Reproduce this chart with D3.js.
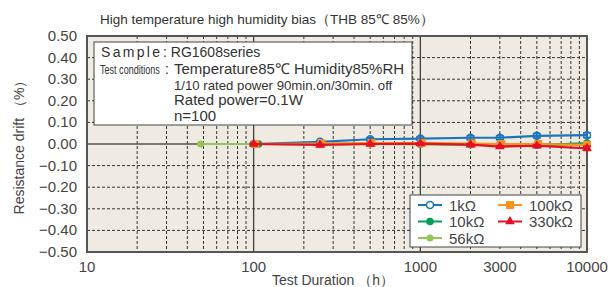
<!DOCTYPE html>
<html>
<head>
<meta charset="utf-8">
<script src="https://cdn.jsdelivr.net/npm/d3@7"></script>
<style>
  body { margin: 0; background: #fff; }
  svg { display: block; font-family: "Liberation Sans", Arial, sans-serif; }
</style>
</head>
<body>
<div id="chart"></div>
<script>
// ── data ──
const yTicks = [0.5, 0.4, 0.3, 0.2, 0.1, 0, -0.1, -0.2, -0.3, -0.4, -0.5];
const xTicks = [10, 100, 1000, 3000, 10000];
const minorX = [20, 30, 40, 50, 60, 70, 80, 90, 200, 300, 400, 500, 600, 700, 800, 900,
  2000, 3000, 4000, 5000, 6000, 7000, 8000, 9000];

const t56 = [48, 100, 250, 500, 1000, 2000, 3000, 5000, 10000];
const v56 = [0, 0, -0.002, 0, -0.002, -0.004, -0.004, -0.004, -0.004];
const t10 = [107, 250, 500, 1000, 2000, 3000, 5000, 10000];
const v10 = [0, 0, 0.002, 0, -0.002, -0.002, -0.006, 0.004];
const tStd = [100, 250, 500, 1000, 2000, 3000, 5000, 10000];
const v1k = [0, 0.010, 0.022, 0.025, 0.029, 0.029, 0.038, 0.041];
const e1k = [0.002, 0.005, 0.007, 0.008, 0.009, 0.009, 0.010, 0.011];
const t100k = [102, 255, 510, 1020, 2040, 3060, 5100, 10000];
const v100k = [0, 0.002, 0.004, 0.004, 0.002, 0, 0, -0.004];
const v330k = [0, -0.004, 0, 0.002, -0.003, -0.012, -0.008, -0.020];
const e330k = [0.002, 0.003, 0.003, 0.003, 0.004, 0.004, 0.005, 0.010];

const C = { blue: "#1b75bb", green: "#00a05a", lgreen: "#92c757", orange: "#f7931e", red: "#e60f25" };

const series = [
  { name: "56kΩ", t: t56, v: v56, color: C.lgreen, mark: "lgdot" },
  { name: "10kΩ", t: t10, v: v10, color: C.green, mark: "dot" },
  { name: "1kΩ", t: tStd, v: v1k, e: e1k, color: C.blue, mark: "ring" },
  { name: "100kΩ", t: t100k, v: v100k, color: C.orange, mark: "square" },
  { name: "330kΩ", t: tStd, v: v330k, e: e330k, color: C.red, mark: "tri" },
];

const W = 610, H = 287;
const svg = d3.select("#chart").append("svg").attr("width", W).attr("height", H);

const x = d3.scaleLog().domain([10, 10000]).range([87, 587]);
const y = d3.scaleLinear().domain([-0.5, 0.5]).range([252, 36]);
const [x0, x1] = x.range(), [y0, y1] = [y(0.5), y(-0.5)];

// plot background
svg.append("rect").attr("x", x0).attr("y", y0).attr("width", x1 - x0).attr("height", y1 - y0)
  .attr("fill", "#efebe2");

// grid
const grid = svg.append("g");
grid.selectAll(".hg").data(yTicks.filter((d) => Math.abs(d) > 0.001 && Math.abs(d) < 0.49))
  .enter().append("line")
  .attr("x1", x0).attr("x2", x1).attr("y1", (d) => y(d)).attr("y2", (d) => y(d))
  .attr("stroke", "#333").attr("stroke-width", 1).attr("stroke-dasharray", "3,2");
grid.selectAll(".vg").data(minorX).enter().append("line")
  .attr("x1", (d) => x(d)).attr("x2", (d) => x(d)).attr("y1", y0).attr("y2", y1)
  .attr("stroke", "#333").attr("stroke-width", 1).attr("stroke-dasharray", "3,2");
grid.selectAll(".vd").data([100, 1000]).enter().append("line")
  .attr("x1", (d) => x(d)).attr("x2", (d) => x(d)).attr("y1", y0).attr("y2", y1)
  .attr("stroke", "#333").attr("stroke-width", 1.2);
grid.append("line").attr("x1", x0).attr("x2", x1).attr("y1", y(0)).attr("y2", y(0))
  .attr("stroke", "#555").attr("stroke-width", 1.5);

// frame
svg.append("rect").attr("x", x0).attr("y", y0).attr("width", x1 - x0).attr("height", y1 - y0)
  .attr("fill", "none").attr("stroke", "#555").attr("stroke-width", 2);

// tick labels
const fmtY = (d) => (d < 0 ? "\u2212" : "") + Math.abs(d).toFixed(2);
svg.selectAll(".yt").data(yTicks).enter().append("text")
  .attr("x", 77).attr("y", (d) => y(d) + 5).attr("text-anchor", "end")
  .attr("font-size", "15px").attr("fill", "#444").text(fmtY);
svg.selectAll(".xt").data(xTicks).enter().append("text")
  .attr("x", (d) => x(d)).attr("y", 272).attr("text-anchor", "middle")
  .attr("font-size", "15px").attr("fill", "#444").text((d) => d);

// titles
svg.append("text").attr("x", 100).attr("y", 24).attr("font-size", "13.5px").attr("fill", "#333")
  .text("High temperature high humidity bias（THB 85℃ 85%）");
svg.append("text").attr("transform", "translate(24,144) rotate(-90)").attr("text-anchor", "middle")
  .attr("font-size", "14px").attr("fill", "#444").text("Resistance drift （%）");
svg.append("text").attr("x", 333).attr("y", 285).attr("text-anchor", "middle")
  .attr("font-size", "14px").attr("fill", "#444").text("Test Duration （h）");

// annotation box
const ann = svg.append("g");
ann.append("rect").attr("x", 94).attr("y", 42).attr("width", 318).attr("height", 83)
  .attr("fill", "#fff").attr("stroke", "#444").attr("stroke-width", 1);
ann.append("text").attr("x", 101).attr("y", 57).attr("font-size", "14px").attr("fill", "#333")
  .attr("letter-spacing", "2.3px").text("Sample");
ann.append("text").attr("x", 163).attr("y", 57).attr("font-size", "14px").attr("fill", "#333")
  .text(": RG1608series");
// narrow "Test conditions" label, squeezed horizontally
ann.append("g").attr("transform", "translate(100,74) scale(0.725,1)")
  .append("text").attr("x", 0).attr("y", 0).attr("font-size", "12.5px").attr("fill", "#333")
  .text("Test conditions");
ann.append("text").attr("x", 165).attr("y", 74).attr("font-size", "14px").attr("fill", "#333")
  .text(":");
const condLines = ["Temperature85℃ Humidity85%RH", "1/10 rated power 90min.on/30min. off",
  "Rated power=0.1W", "n=100"];
ann.selectAll(".cl").data(condLines).enter().append("text")
  .attr("x", 174).attr("y", (d, i) => 74 + i * 15.5)
  .attr("font-size", (d, i) => (i === 1 ? "13.2px" : "15px")).attr("fill", "#333").text((d) => d);

// markers
function drawMark(g, s, cx, cy, legend) {
  if (s.mark === "ring") {
    g.append("circle").attr("cx", cx).attr("cy", cy).attr("r", 3.5)
      .attr("fill", legend ? "#fff" : "none").attr("stroke", s.color).attr("stroke-width", 1.5);
  } else if (s.mark === "dot") {
    g.append("circle").attr("cx", cx).attr("cy", cy).attr("r", 3.8).attr("fill", s.color);
  } else if (s.mark === "lgdot") {
    g.append("circle").attr("cx", cx).attr("cy", cy).attr("r", 3.5).attr("fill", s.color);
  } else if (s.mark === "square") {
    g.append("rect").attr("x", cx - 4).attr("y", cy - 4).attr("width", 8).attr("height", 8)
      .attr("fill", s.color);
  } else if (s.mark === "tri") {
    g.append("path").attr("d", d3.symbol(d3.symbolTriangle, 40)())
      .attr("transform", `translate(${cx},${cy})`).attr("fill", s.color);
  }
}

const line = d3.line().x((d) => x(d[0])).y((d) => y(d[1]));
series.forEach((s) => {
  const g = svg.append("g");
  const pts = s.t.map((t, i) => [t, s.v[i]]);
  g.append("path").attr("d", line(pts)).attr("fill", "none")
    .attr("stroke", s.color).attr("stroke-width", 2.2);
  if (s.e) {
    pts.forEach((p, i) => {
      const cx = x(p[0]), lo = y(p[1] - s.e[i]), hi = y(p[1] + s.e[i]);
      g.append("line").attr("x1", cx).attr("x2", cx).attr("y1", lo).attr("y2", hi)
        .attr("stroke", s.color).attr("stroke-width", 1.5);
      [lo, hi].forEach((yy) => g.append("line").attr("x1", cx - 4).attr("x2", cx + 4)
        .attr("y1", yy).attr("y2", yy).attr("stroke", s.color).attr("stroke-width", 1.5));
    });
  }
  pts.forEach((p) => drawMark(g, s, x(p[0]), y(p[1]), false));
});

// legend
const lg = svg.append("g");
lg.append("rect").attr("x", 410).attr("y", 195).attr("width", 171).attr("height", 52)
  .attr("fill", "#fff").attr("stroke", "#444").attr("stroke-width", 1);
const legendOrder = [
  { s: series[2], col: 0, row: 0 }, { s: series[1], col: 0, row: 1 }, { s: series[0], col: 0, row: 2 },
  { s: series[3], col: 1, row: 0 }, { s: series[4], col: 1, row: 1 },
];
legendOrder.forEach(({ s, col, row }) => {
  const lx = 418 + col * 80, ly = 205 + row * 16.5;
  lg.append("line").attr("x1", lx).attr("x2", lx + 24).attr("y1", ly).attr("y2", ly)
    .attr("stroke", s.color).attr("stroke-width", 2);
  drawMark(lg, s, lx + 12, ly, true);
  lg.append("text").attr("x", lx + 31).attr("y", ly + 5.5).attr("font-size", "15px")
    .attr("fill", "#444").text(s.name);
});
</script>
</body>
</html>
